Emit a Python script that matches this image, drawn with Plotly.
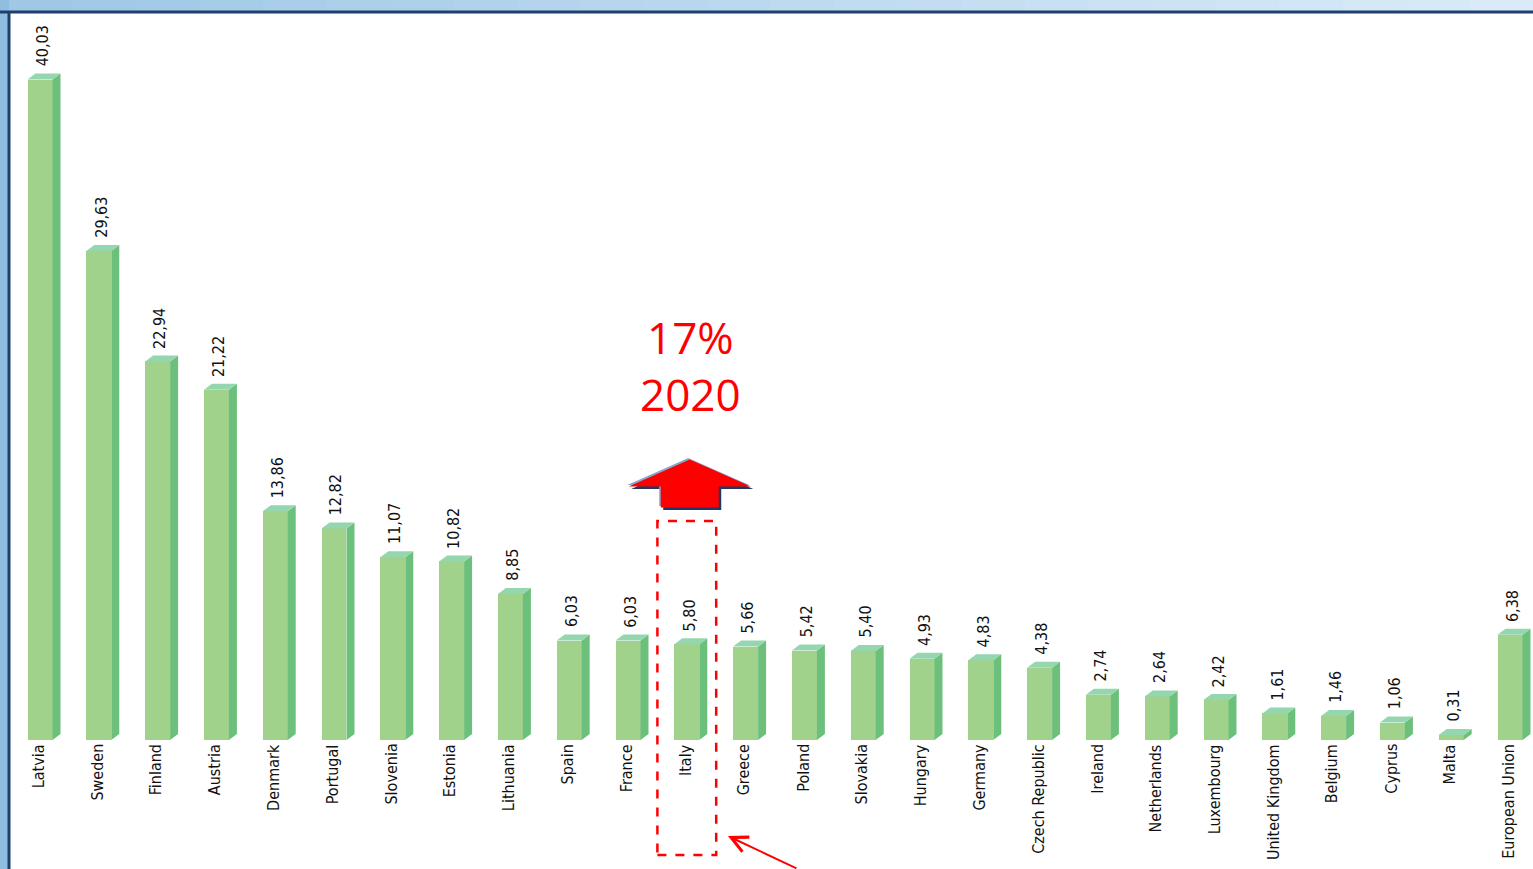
import plotly.graph_objects as go

countries = ["Latvia", "Sweden", "Finland", "Austria", "Denmark", "Portugal", "Slovenia",
             "Estonia", "Lithuania", "Spain", "France", "Italy", "Greece", "Poland", "Slovakia",
             "Hungary", "Germany", "Czech Republic", "Ireland", "Netherlands", "Luxembourg",
             "United Kingdom", "Belgium", "Cyprus", "Malta", "European Union"]
values = [40.03, 29.63, 22.94, 21.22, 13.86, 12.82, 11.07, 10.82, 8.85, 6.03, 6.03, 5.80,
          5.66, 5.42, 5.40, 4.93, 4.83, 4.38, 2.74, 2.64, 2.42, 1.61, 1.46, 1.06, 0.31, 6.38]
highlight = "Italy"
target_pct = 17
target_year = 2020

W, H = 1533, 869
L, T = 9, 12
px_x = 58.8   # pixels per category
px_y = 16.5   # pixels per unit
x0_px, base_px = 40, 740

xr = [(L - x0_px) / px_x, (W - x0_px) / px_x]
yr = [(base_px - H) / px_y, (base_px - T) / px_y]

idx = list(range(len(countries)))
half = 0.2125
dx = 8 / px_x
dy = 6 / px_y

fig = go.Figure()

# front faces
fig.add_trace(go.Bar(x=idx, y=values, width=2 * half, marker=dict(color="#a0d28c", line=dict(width=0)),
                     hoverinfo="skip", showlegend=False))

# side and top faces
sx, sy, tx, ty = [], [], [], []
for i, v in zip(idx, values):
    r = i + half
    sx += [r, r + dx, r + dx, r, None]
    sy += [0, dy, v + dy, v, None]
    tx += [i - half, r, r + dx, i - half + dx, None]
    ty += [v, v, v + dy, v + dy, None]
fig.add_trace(go.Scatter(x=sx, y=sy, fill="toself", mode="lines", line=dict(width=0),
                         fillcolor="#6cc07b", hoverinfo="skip", showlegend=False))
fig.add_trace(go.Scatter(x=tx, y=ty, fill="toself", mode="lines", line=dict(width=0),
                         fillcolor="#94d6ad", hoverinfo="skip", showlegend=False))

lab_font = dict(family="Liberation Sans Narrow, DejaVu Sans Condensed, Liberation Sans, Arial",
                size=16, color="#111111")
for i, (c, v) in enumerate(zip(countries, values)):
    fig.add_annotation(x=i + 0.04, y=v, text=f"{v:.2f}".replace(".", ","), textangle=-90,
                       showarrow=False, yanchor="bottom", xanchor="center", yshift=11, font=lab_font)
    fig.add_annotation(x=i - 0.03, y=0, text=c, textangle=-90, showarrow=False,
                       yanchor="top", xanchor="center", yshift=-2, font=lab_font)

hi = countries.index(highlight)

# target arrow
tip = target_pct
head_base = tip - 27 / px_y
shaft_bot = tip - 48 / px_y
hw, sw = 61 / px_x, 29 / px_x
cx = hi + 0.05
arrow_x = [cx, cx + hw, cx + sw, cx + sw, cx - sw, cx - sw, cx - hw, cx]
arrow_y = [tip, head_base, head_base, shaft_bot, shaft_bot, head_base, head_base, tip]
ox, oy = 2.5 / px_x, -2.5 / px_y
fig.add_trace(go.Scatter(x=[a + ox for a in arrow_x], y=[b + oy for b in arrow_y], fill="toself",
                         mode="lines", line=dict(width=0), fillcolor="#1f3864",
                         hoverinfo="skip", showlegend=False))
fig.add_trace(go.Scatter(x=[a - 1.5 / px_x for a in arrow_x], y=[b + 1.5 / px_y for b in arrow_y],
                         fill="toself", mode="lines", line=dict(width=0), fillcolor="#8aa6cf",
                         hoverinfo="skip", showlegend=False))
fig.add_trace(go.Scatter(x=arrow_x, y=arrow_y, fill="toself", mode="lines", line=dict(width=0),
                         fillcolor="#ff0000", hoverinfo="skip", showlegend=False))

fig.add_annotation(x=hi + 0.06, y=(base_px - 365) / px_y, text=f"{target_pct}%<br>{target_year}",
                   showarrow=False, font=dict(family="Open Sans, Noto Sans", size=44, color="#ff0000"))

# dashed box around highlighted bar
fig.add_shape(type="rect", xref="x", yref="y", x0=hi - 0.5, x1=hi + 0.5,
              y0=(base_px - 855) / px_y, y1=(base_px - 521) / px_y,
              line=dict(color="#ff0000", width=2.5, dash="dash"))

fig.add_annotation(x=hi + 0.70, y=(base_px - 836) / px_y, ax=70, ay=40, text="", showarrow=True,
                   arrowhead=5, arrowsize=1.6, arrowwidth=2, arrowcolor="#ff0000")

# frame
n = 24
c0, c1 = (158, 200, 230), (217, 235, 248)
for k in range(n):
    f = k / (n - 1)
    col = "rgb(%d,%d,%d)" % tuple(round(a + (b - a) * f) for a, b in zip(c0, c1))
    fig.add_shape(type="rect", xref="paper", yref="paper", x0=k / n, x1=(k + 1) / n + 0.002,
                  y0=1, y1=1 + T / (H - T), fillcolor=col, line=dict(width=0), layer="below")
fig.add_shape(type="line", xref="paper", yref="paper", x0=-L / (W - L), x1=1, y0=1, y1=1,
              line=dict(color="#1f3f6e", width=3))
fig.add_shape(type="line", xref="paper", yref="paper", x0=0, x1=0, y0=0, y1=1,
              line=dict(color="#1f3f6e", width=3))

fig.update_layout(
    width=W, height=H,
    margin=dict(l=L, r=0, t=T, b=0),
    paper_bgcolor="#8fbee0", plot_bgcolor="#ffffff",
    bargap=0,
    xaxis=dict(range=xr, visible=False, fixedrange=True),
    yaxis=dict(range=yr, visible=False, fixedrange=True),
)

fig.write_html("out.html", config={"displayModeBar": False},
               post_script="document.body.style.margin='0';")
